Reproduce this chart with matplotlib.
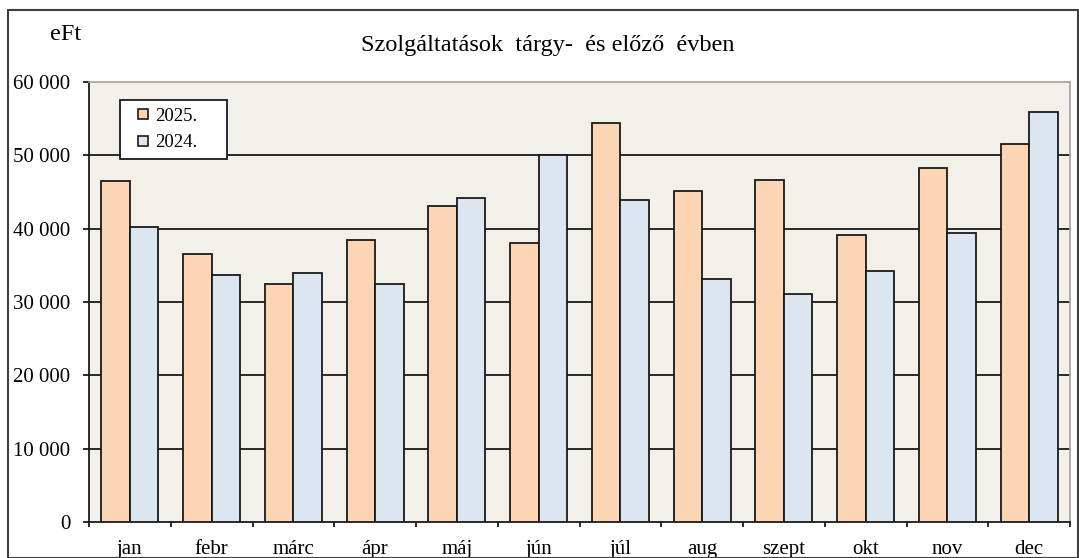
import numpy as np
import matplotlib.pyplot as plt
from matplotlib.lines import Line2D
from matplotlib.patches import Rectangle
from matplotlib.ticker import FixedLocator, FuncFormatter

plt.rcParams['font.family'] = ['Liberation Serif', 'DejaVu Serif']

months = ["jan", "febr", "márc", "ápr", "máj", "jún", "júl", "aug", "szept", "okt", "nov", "dec"]
y2025 = [46500, 36600, 32400, 38500, 43100, 38000, 54400, 45200, 46700, 39100, 48300, 51500]
y2024 = [40200, 33700, 34000, 32400, 44200, 50100, 43900, 33100, 31100, 34200, 39400, 55900]
yticks = [0, 10000, 20000, 30000, 40000, 50000, 60000]

c25 = "#fcd5b4"
c24 = "#dce6f1"
ink = "#1a1a1a"

fig = plt.figure(figsize=(10.79, 5.58), dpi=100)
ax = fig.add_axes([89 / 1079, 1 - 522 / 558, 981 / 1079, 440 / 558])
ax.set_facecolor("#f3f0e9")

x = np.arange(len(months))
w = 0.35
ax.bar(x - w / 2, y2025, w, color=c25, edgecolor=ink, linewidth=1.3, zorder=3)
ax.bar(x + w / 2, y2024, w, color=c24, edgecolor=ink, linewidth=1.3, zorder=3)

ax.set_xlim(-0.5, len(months) - 0.5)
ax.set_ylim(0, 60000)
ax.set_yticks(yticks)
ax.yaxis.set_major_formatter(FuncFormatter(lambda v, p: f"{int(v):,}".replace(",", " ")))
for v in yticks[1:-1]:
    ax.axhline(v, color=ink, linewidth=1.3, zorder=1)

# ticks sit between the months, labels in the middle
ax.xaxis.set_major_locator(FixedLocator(np.arange(len(months) + 1) - 0.5))
ax.xaxis.set_minor_locator(FixedLocator(x))
ax.set_xticklabels([], minor=False)
ax.set_xticklabels(months, minor=True)
ax.tick_params(axis="x", which="major", direction="out", length=3.6, width=1.3, color=ink)
ax.tick_params(axis="x", which="minor", length=0, pad=13, labelsize=15)
ax.tick_params(axis="y", direction="out", length=4.5, width=1.3, color=ink, pad=9, labelsize=15)

for s in ["left", "bottom"]:
    ax.spines[s].set_color(ink)
    ax.spines[s].set_linewidth(1.3)
for s in ["top", "right"]:
    ax.spines[s].set_color("#a0a0a0")
    ax.spines[s].set_linewidth(1.2)

handles = [Line2D([], [], marker="s", linestyle="none", markersize=7, markerfacecolor=c25,
                  markeredgecolor=ink, markeredgewidth=1.2, label="2025."),
           Line2D([], [], marker="s", linestyle="none", markersize=7, markerfacecolor=c24,
                  markeredgecolor=ink, markeredgewidth=1.2, label="2024.")]
leg = ax.legend(handles=handles, loc="upper left", mode="expand",
                bbox_to_anchor=(31 / 981, 362 / 440, 107 / 981, 60 / 440),
                fontsize=13.5, frameon=True, fancybox=False, framealpha=1,
                edgecolor=ink, handlelength=1.6, handletextpad=-0.1,
                borderpad=0.4, labelspacing=0.5, borderaxespad=0)
leg.get_frame().set_linewidth(1.3)
leg.set_zorder(5)

fig.text(548 / 1079, 1 - 46 / 558, "Szolgáltatások  tárgy-  és előző  évben",
         ha="center", va="center", fontsize=17.5)
fig.text(50 / 1079, 1 - 34 / 558, "eFt", ha="left", va="center", fontsize=17.5)

fig.patches.append(Rectangle((8 / 1079, 0), 1 - 9 / 1079, 1 - 10 / 558,
                             transform=fig.transFigure, fill=False,
                             edgecolor="#404040", linewidth=1.5))

fig.savefig("out.png", dpi=100)
